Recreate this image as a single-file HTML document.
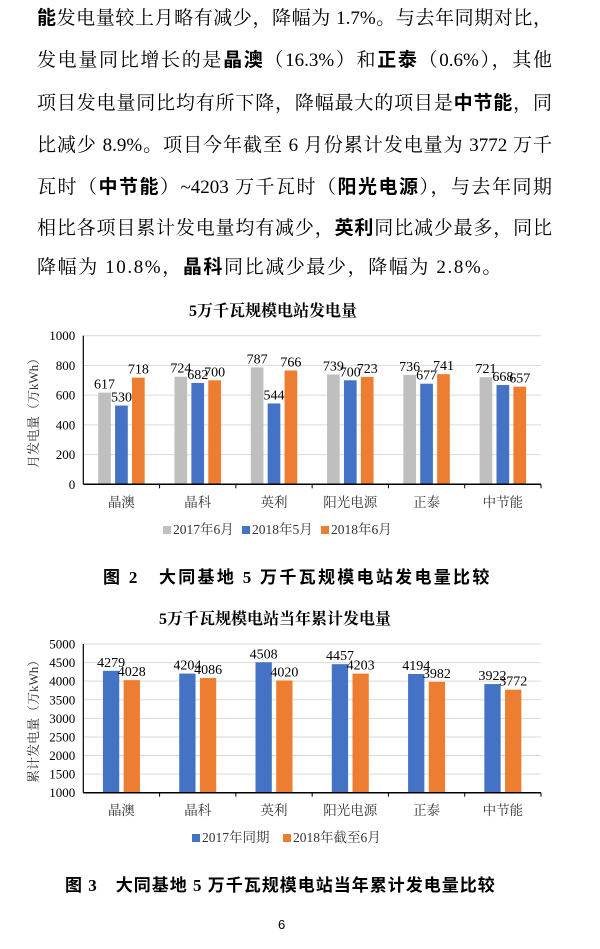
<!DOCTYPE html>
<html><head><meta charset="utf-8">
<style>
body{margin:0;background:#fff;}
#page{position:relative;width:600px;height:949px;overflow:hidden;background:#fff;font-family:"Liberation Serif","Noto Serif CJK SC","Noto Sans CJK SC",serif;color:#000;}
.ln{position:absolute;left:37px;width:515px;font-size:19px;line-height:22px;height:22px;text-align:justify;text-align-last:justify;white-space:nowrap;}
.ln b{font-family:"Liberation Sans","Noto Sans CJK SC",sans-serif;font-weight:bold;}
.cap{position:absolute;font-family:"Liberation Serif","Noto Sans CJK SC",serif;font-weight:bold;font-size:17px;letter-spacing:2.5px;white-space:nowrap;}
svg{position:absolute;left:0;top:0;}
svg text{font-family:"Liberation Serif","Noto Serif CJK SC","Noto Sans CJK SC",serif;}
</style></head><body>
<div id="page">
<div class="ln" style="top:8px"><b>能</b>发电量较上月略有减少，降幅为 1.7%。与去年同期对比，</div>
<div class="ln" style="top:50px">发电量同比增长的是<b>晶澳</b>（16.3%）和<b>正泰</b>（0.6%），其他</div>
<div class="ln" style="top:93px">项目发电量同比均有所下降，降幅最大的项目是<b>中节能</b>，同</div>
<div class="ln" style="top:135px">比减少 8.9%。项目今年截至 6 月份累计发电量为 3772 万千</div>
<div class="ln" style="top:177px">瓦时（<b>中节能</b>）~4203 万千瓦时（<b>阳光电源</b>），与去年同期</div>
<div class="ln" style="top:218px">相比各项目累计发电量均有减少，<b>英利</b>同比减少最多，同比</div>
<div class="ln" style="top:257px;width:430px;text-align-last:left;letter-spacing:1.6px">降幅为 10.8%，<b>晶科</b>同比减少最少，降幅为 2.8%。</div>

<svg id="chart" width="600" height="949"></svg>

<div class="cap" style="left:103px;top:563px;letter-spacing:2.3px">图 2　大同基地 5 万千瓦规模电站发电量比较</div>
<div class="cap" style="left:65px;top:871px;letter-spacing:1px">图 3　大同基地 5 万千瓦规模电站当年累计发电量比较</div>
<div style="position:absolute;left:278px;top:917px;font-size:13px;font-family:'Liberation Sans',sans-serif">6</div>
</div>
<script>
const categories = ["晶澳","晶科","英利","阳光电源","正泰","中节能"];
const c1Series2017Jun = [617,724,787,739,736,721];
const c1Series2018May = [530,682,544,700,677,668];
const c1Series2018Jun = [718,700,766,723,741,657];
const c1Ticks = [0,200,400,600,800,1000];
const c1Legend = ["2017年6月","2018年5月","2018年6月"];
const c2Series2017 = [4279,4204,4508,4457,4194,3922];
const c2Series2018 = [4028,4086,4020,4203,3982,3772];
const c2Ticks = [1000,1500,2000,2500,3000,3500,4000,4500,5000];
const c2Legend = ["2017年同期","2018年截至6月"];

const NS="http://www.w3.org/2000/svg";
const svg=document.getElementById('chart');
function mk(tag,attrs,parent){const e=document.createElementNS(NS,tag);for(const k in attrs)e.setAttribute(k,attrs[k]);(parent||svg).appendChild(e);return e;}

function drawChart(cfg){
  const g=mk('g',{});
  
  
  const x0=83.3,x1=541,yTop=cfg.yTop,yBot=cfg.yBot,min=cfg.ticks[0],max=cfg.ticks[cfg.ticks.length-1];
  const y=v=>yBot-(v-min)/(max-min)*(yBot-yTop);
  const bw=(x1-x0)/categories.length;
  const t=mk('text',{x:cfg.titleX,y:cfg.titleY,'text-anchor':'middle','font-size':16,'font-weight':'bold'},g);
  t.textContent=cfg.title;
  
  
  cfg.ticks.forEach(v=>{
    if(v!==min){const gl=mk('line',{x1:x0,x2:x1,y1:y(v),y2:y(v),stroke:'#d9d9d9','stroke-width':1},g);
      }
    const tl=mk('text',{x:x0-8,y:y(v)+4.5,'text-anchor':'end','font-size':13},g);
    tl.textContent=v;
    
    
  });
  const n=cfg.series.length;
  categories.forEach((c,i)=>{
    const groupW=n*cfg.barW+(n-1)*cfg.gap;
    const gx=x0+i*bw+(bw-groupW)/2;
    cfg.series.forEach((s,j)=>{
      const bx=gx+j*(cfg.barW+cfg.gap);
      const r=mk('rect',{x:bx,y:y(s[i]),width:cfg.barW,height:yBot-y(s[i]),fill:cfg.colors[j]},g);
      
      
      const lb=mk('text',{x:bx+cfg.barW/2,y:y(s[i])-4,'text-anchor':'middle','font-size':14},g);
      lb.textContent=s[i];
      
      
    });
    const cl=mk('text',{x:x0+i*bw+bw/2,y:cfg.catY,'text-anchor':'middle','font-size':13.5,fill:'#333'},g);
    cl.textContent=c;
    
    
    const tk=mk('line',{x1:x0+(i+1)*bw,x2:x0+(i+1)*bw,y1:yBot,y2:yBot+4,stroke:'#000'},g);
    
  });
  const ax=mk('line',{x1:x0,x2:x0,y1:yTop,y2:yBot,stroke:'#000','stroke-width':1.2},g);
  
  const bx=mk('line',{x1:x0,x2:x1,y1:yBot,y2:yBot,stroke:'#000','stroke-width':1.5},g);
  
  const yt=mk('text',{x:0,y:0,'text-anchor':'middle','font-size':13,fill:'#333',transform:`translate(38,${(yTop+yBot)/2}) rotate(-90)`},g);
  yt.textContent=cfg.yTitle;
  
  
  let lx=cfg.legendX;
  cfg.legend.forEach((l,j)=>{
    const sq=mk('rect',{x:lx,y:cfg.legendY-8,width:8,height:8,fill:cfg.colors[j]},g);
    
    const lt=mk('text',{x:lx+10,y:cfg.legendY,'font-size':13.5,fill:'#333'},g);
    lt.textContent=l;
    
    
    lx+=cfg.legendStep;
  });
}
drawChart({name:'chart-monthly-generation',title:'5万千瓦规模电站发电量',titleX:273,titleY:316,
  ticks:c1Ticks,yTop:335.7,yBot:484.3,series:[c1Series2017Jun,c1Series2018May,c1Series2018Jun],
  colors:['#bfbfbf','#4472c4','#ed7d31'],legend:c1Legend,barW:12.7,gap:4.2,catY:507,
  yTitle:'月发电量（万kWh）',legendX:163,legendY:534,legendStep:79});
drawChart({name:'chart-cumulative-generation',title:'5万千瓦规模电站当年累计发电量',titleX:275,titleY:624,
  ticks:c2Ticks,yTop:644,yBot:792.7,series:[c2Series2017,c2Series2018],
  colors:['#4472c4','#ed7d31'],legend:c2Legend,barW:16.3,gap:4.4,catY:815,
  yTitle:'累计发电量（万kWh）',legendX:192,legendY:842,legendStep:91});
</script>
</body></html>
